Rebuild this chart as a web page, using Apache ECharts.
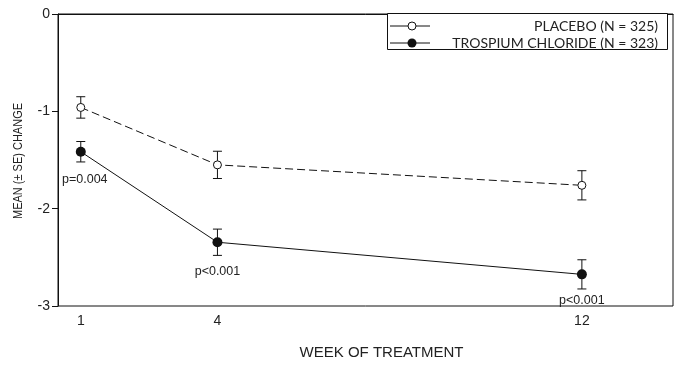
<!DOCTYPE html>
<html><head><meta charset="utf-8">
<script src="https://cdn.jsdelivr.net/npm/echarts@6/dist/echarts.min.js"></script>
<style>html,body{margin:0;padding:0;background:#fff}#c{width:686px;height:365px}</style>
</head><body><div id="c"></div>
<script>
const weeks = [1, 4, 12];
const placeboMean = [-0.96, -1.55, -1.76];
const placeboSE = [0.11, 0.14, 0.15];
const trospiumMean = [-1.415, -2.345, -2.675];
const trospiumSE = [0.105, 0.135, 0.15];
const pValues = ['p=0.004', 'p<0.001', 'p<0.001'];
const seriesNames = ['PLACEBO (N = 325)', 'TROSPIUM CHLORIDE (N = 323)'];
const xTitle = 'WEEK OF TREATMENT';
const yTitle = 'MEAN (\u00b1 SE) CHANGE';

const INK = '#111';
const FONT = 'Liberation Sans, Arial, sans-serif';

const chart = echarts.init(document.getElementById('c'), null, {renderer: 'canvas'});

function errData(mean, se) {
  return weeks.map((w, i) => [w, mean[i] - se[i], mean[i] + se[i]]);
}
function errRender(params, api) {
  const x = api.value(0), lo = api.value(1), hi = api.value(2);
  const a = api.coord([x, hi]), b = api.coord([x, lo]);
  const hw = 4.5;
  const st = {stroke: INK, lineWidth: 1};
  return {type: 'group', children: [
    {type: 'line', shape: {x1: a[0], y1: a[1], x2: b[0], y2: b[1]}, style: st},
    {type: 'line', shape: {x1: a[0] - hw, y1: a[1], x2: a[0] + hw, y2: a[1]}, style: st},
    {type: 'line', shape: {x1: b[0] - hw, y1: b[1], x2: b[0] + hw, y2: b[1]}, style: st}
  ]};
}
const pOffsets = [[4, 28], [0, 29], [0, 26]];
function pRender(params, api) {
  const i = params.dataIndex;
  const c = api.coord([api.value(0), api.value(1)]);
  return {type: 'text', x: c[0] + pOffsets[i][0], y: c[1] + pOffsets[i][1],
    style: {text: pValues[i], fill: '#222', font: '12.5px ' + FONT, align: 'center', verticalAlign: 'middle'}};
}

const legendX = 387, legendY = 13;
const option = {
  animation: false,
  grid: {left: 58, right: 13, top: 14, bottom: 57, show: true, borderColor: INK, borderWidth: 1, backgroundColor: 'transparent'},
  xAxis: {
    type: 'value', min: 0.5, max: 14, interval: 0.5,
    axisLine: {lineStyle: {color: INK, width: 1}},
    axisTick: {show: false},
    splitLine: {show: false},
    axisLabel: {margin: 8, color: '#222', fontSize: 14, fontFamily: FONT,
      formatter: v => weeks.includes(v) ? String(v) : ''},
    name: xTitle, nameLocation: 'middle', nameGap: 39,
    nameTextStyle: {fontSize: 15, color: '#222', fontFamily: FONT, padding: [0, 0, 0, 32]}
  },
  yAxis: {
    type: 'value', min: -3, max: 0, interval: 1,
    axisLine: {show: true, lineStyle: {color: INK, width: 1}},
    axisTick: {show: true, inside: false, length: 6, lineStyle: {color: INK}},
    splitLine: {show: false},
    axisLabel: {margin: 8, color: '#222', fontSize: 14, fontFamily: FONT}
  },
  series: [
    {type: 'custom', name: 'errP', data: errData(placeboMean, placeboSE), renderItem: errRender, z: 1, encode: {x: 0, y: [1, 2]}},
    {type: 'custom', name: 'errT', data: errData(trospiumMean, trospiumSE), renderItem: errRender, z: 1, encode: {x: 0, y: [1, 2]}},
    {type: 'line', name: seriesNames[0], data: weeks.map((w, i) => [w, placeboMean[i]]), z: 3,
      symbol: 'circle', symbolSize: 8, showAllSymbol: true,
      lineStyle: {color: INK, width: 1, type: [8, 4]},
      itemStyle: {color: '#fff', borderColor: INK, borderWidth: 1}},
    {type: 'line', name: seriesNames[1], data: weeks.map((w, i) => [w, trospiumMean[i]]), z: 3,
      symbol: 'circle', symbolSize: 10, showAllSymbol: true,
      lineStyle: {color: INK, width: 1},
      itemStyle: {color: INK, borderColor: INK, borderWidth: 0}},
    {type: 'custom', name: 'p', data: weeks.map((w, i) => [w, trospiumMean[i]]), renderItem: pRender, z: 4, encode: {x: 0, y: 1}}
  ],
  graphic: [
    {type: 'text', z: 12, x: 19, y: 161, rotation: Math.PI / 2, scaleX: 0.88,
      style: {text: yTitle, fill: '#222', font: '12.5px ' + FONT, align: 'center', verticalAlign: 'middle'}},
    {type: 'rect', left: legendX, top: legendY, z: 10, shape: {width: 280, height: 36},
      style: {fill: '#fff', stroke: INK, lineWidth: 1}},
    {type: 'line', z: 11, shape: {x1: 390, y1: 26, x2: 430, y2: 26}, style: {stroke: INK, lineWidth: 1}},
    {type: 'circle', z: 12, shape: {cx: 412, cy: 26, r: 4}, style: {fill: '#fff', stroke: INK, lineWidth: 1}},
    {type: 'line', z: 11, shape: {x1: 390, y1: 43, x2: 430, y2: 43}, style: {stroke: INK, lineWidth: 1}},
    {type: 'circle', z: 12, shape: {cx: 412, cy: 43, r: 4.5}, style: {fill: INK, stroke: INK, lineWidth: 0}},
    {type: 'text', z: 12, x: 658, y: 26, style: {text: seriesNames[0], fill: '#222', font: '14px Lato, sans-serif', align: 'right', verticalAlign: 'middle'}},
    {type: 'text', z: 12, x: 658, y: 43, style: {text: seriesNames[1], fill: '#222', font: '14px Lato, sans-serif', align: 'right', verticalAlign: 'middle'}}
  ]
};
chart.setOption(option);
</script>
</body></html>
